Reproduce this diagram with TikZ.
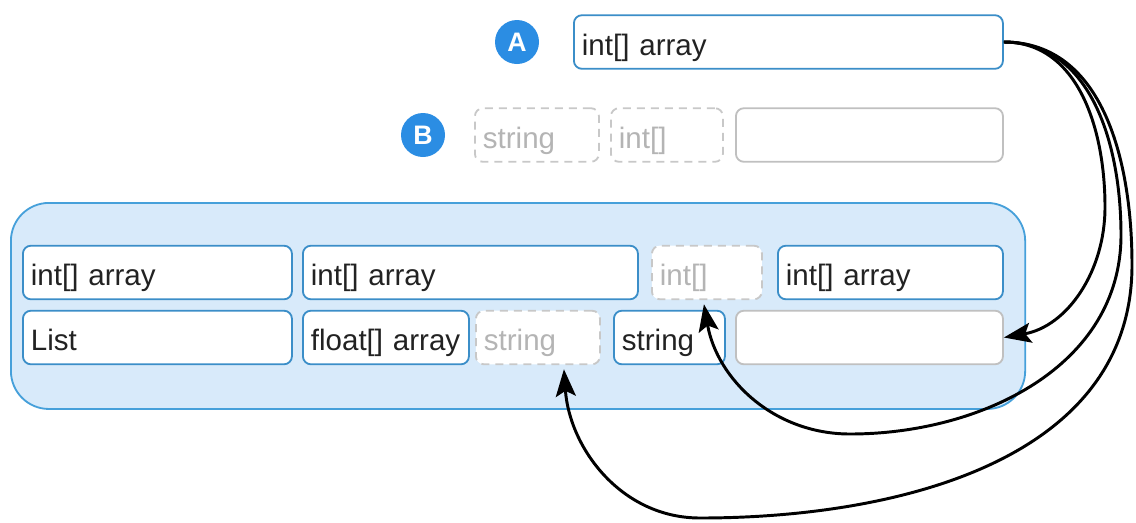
\documentclass[tikz,border=0pt]{standalone}
\usepackage{fontspec}
\setmainfont{Liberation Sans}
\usepackage{xcolor}
\usepackage{tikz}
\usetikzlibrary{arrows.meta}
\definecolor{cellblue}{RGB}{59,142,200}
\definecolor{badgeblue}{RGB}{43,141,227}
\definecolor{poolblue}{RGB}{70,160,218}
\definecolor{poolfill}{RGB}{216,234,250}
\definecolor{ghostline}{RGB}{200,200,200}
\definecolor{ghosttext}{RGB}{180,180,180}
\definecolor{blankgray}{RGB}{192,192,192}
\definecolor{inkgray}{RGB}{34,34,34}

\begin{document}
\begin{tikzpicture}[x=0.025cm,y=-0.025cm,
  every node/.style={font=\fontsize{21}{24}\selectfont},
  cell/.style={draw=cellblue,line width=1.3pt,fill=white,rounded corners=0.2cm,anchor=west,
    align=left,inner xsep=0.2cm,inner ysep=0pt,minimum height=1.34cm,text=inkgray,
    text height=0.85cm,text depth=0.2cm},
  ghost/.style={cell,draw=ghostline,dash pattern=on 0.2cm off 0.15cm,text=ghosttext},
  blank/.style={cell,draw=blankgray},
  badge/.style={circle,fill=badgeblue,text=white,font=\fontsize{19}{22}\selectfont\bfseries,
    minimum size=1.1cm,inner sep=0pt},
  link/.style={-{Stealth[length=0.68cm,width=0.5cm,inset=0.14cm]},line width=2.1pt,black}]
\useasboundingbox (0,0) rectangle (1136,522);

% the shared block
\node[draw=poolblue,fill=poolfill,line width=1.3pt,rounded corners=0.95cm,anchor=north west,
  minimum width=25.35cm,minimum height=5.15cm] (heap) at (10,202) {};

\node[badge] (ba) at (517,42) {A};
\node[badge] (bb) at (423,135) {B};

\foreach \nm/\x/\y/\w/\t [evaluate=\w as \tw using (\w-16)*0.025] in {
  ta/573/42/429/{int[] array},
  r1a/22/272.5/269/{int[] array}, r1b/302/272.5/335/{int[] array}, r1d/777/272.5/225/{int[] array},
  r2a/22/337.5/269/List, r2b/302/337.5/166/{float[] array}, r2d/613/337.5/111/string}{
\node[cell,text width=\tw cm] (\nm) at (\x,\y) {\t};
}
\foreach \nm/\x/\y/\w/\t [evaluate=\w as \tw using (\w-16)*0.025] in {
  gb1/474/135/124/string, gb2/610/135/112/{int[]},
  r1c/651/272.5/110/{int[]}, r2c/475/337.5/124/string}{
\node[ghost,text width=\tw cm] (\nm) at (\x,\y) {\t};
}
\foreach \nm/\x/\y in {eb/735/135, r2e/735/337.5}{
\node[blank,text width=6.275cm] (\nm) at (\x,\y) {};
}

\draw[link] (ta.east) to[out=0,in=90] (1105,207) to[out=-90,in=10] (r2e.east);
\draw[link] (ta.east) to[out=0,in=90] (1121,235) to[out=-90,in=0] (850,434)
  to[out=180,in=-80] ([xshift=-0.075cm,yshift=-0.1cm]r1c.south);
\draw[link] (ta.east) to[out=0,in=90] (1132,265) to[out=-90,in=0] (700,518)
  to[out=180,in=-86] ([xshift=0.65cm,yshift=-0.1cm]r2c.south);
\end{tikzpicture}
\end{document}
